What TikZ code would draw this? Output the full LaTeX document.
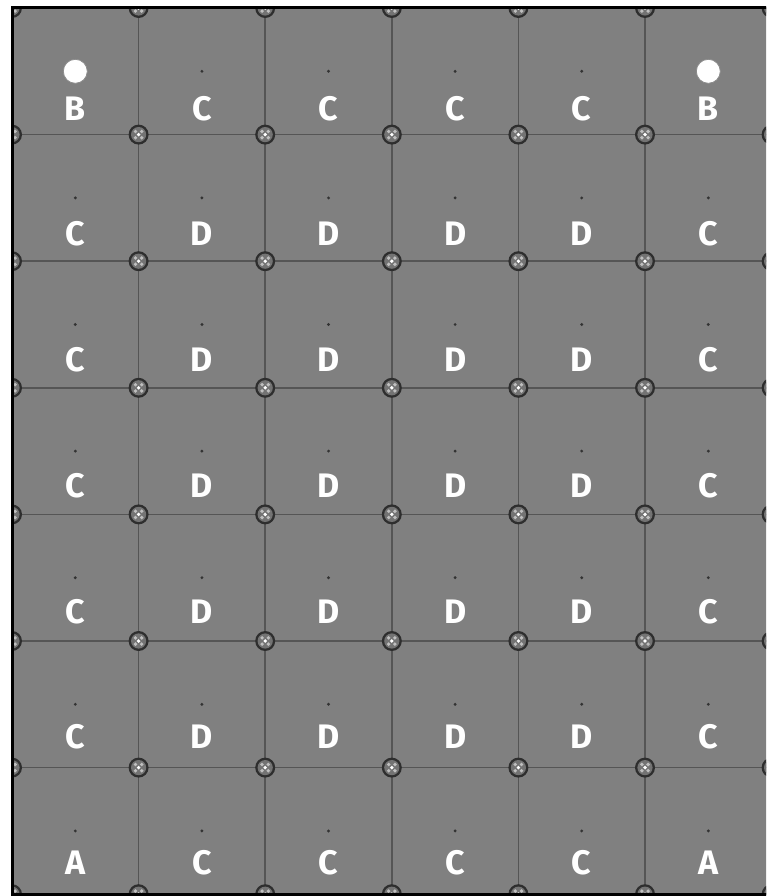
\documentclass[tikz,border=0pt]{standalone}
\usepackage{fontspec}
\setmainfont{Fira Sans}
\usetikzlibrary{calc}
\begin{document}
\begin{tikzpicture}[x=1pt,y=-1pt,
  plate/.style={fill={rgb,255:red,128;green,128;blue,128}},
  gridline/.style={draw={rgb,255:red,85;green,85;blue,85},line width=1.7pt},
  border/.style={draw=black,line width=3pt},
  lbl/.style={text=white,font=\bfseries\fontsize{34}{34}\selectfont,inner sep=0pt,anchor=center},
  cdot/.style={fill=black!80},
  pin/.style={fill=white,draw=black!45,line width=0.8pt}
]
\useasboundingbox (0,0) rectangle (766,896);
\clip (0,0) rectangle (766,896);
\def\cw{126.6}
\def\xo{12}
\def\yo{8}
% plate
\path[plate] (\xo,\yo) rectangle (772,894);
% grid lines
\foreach \k in {1,...,5}{
  \draw[gridline] ({\xo+\k*\cw},\yo) -- ({\xo+\k*\cw},894);
}
\foreach \k in {1,...,6}{
  \draw[gridline] (\xo,{\yo+\k*\cw}) -- (772,{\yo+\k*\cw});
}
% connectors
\begin{scope}
\clip (\xo,\yo) rectangle (772,894);
\foreach \i in {0,...,6}{
  \foreach \j in {0,...,7}{
    \begin{scope}[shift={({\xo+\i*\cw},{\yo+\j*\cw})}]
      \fill[black!82] (0,0) circle (10);
      \fill[black!55] (0,0) circle (7.6);
      \foreach \a in {45,135,225,315}{
        \fill[black!25] (\a:4.4) circle (1.9);
      }
      \fill[white] (0,0) circle (1.9);
    \end{scope}
  }
}
\end{scope}
% border
\draw[border] (772,\yo) -- (\xo,\yo) -- (\xo,894) -- (772,894);
% cells
\def\rowone{B,C,C,C,C,B}
\def\rowmid{C,D,D,D,D,C}
\def\rowlast{A,C,C,C,C,A}
\foreach \j in {1,...,7}{
  \ifnum\j=1 \let\rowlist\rowone
  \else\ifnum\j=7 \let\rowlist\rowlast
  \else \let\rowlist\rowmid\fi\fi
  \foreach \t [count=\i] in \rowlist {
    \coordinate (c\i\j) at ({\xo+(\i-0.5)*\cw},{\yo+(\j-0.5)*\cw});
    \fill[cdot] (c\i\j) circle (1.6);
    \node[lbl] (l\i\j) at ($(c\i\j)+(0,{37-0.83*(\j-1)})$) {\t};
  }
}
\node[pin,circle,minimum size=24pt,inner sep=0pt] (p1) at (c11) {};
\node[pin,circle,minimum size=24pt,inner sep=0pt] (p6) at (c61) {};
\end{tikzpicture}
\end{document}
